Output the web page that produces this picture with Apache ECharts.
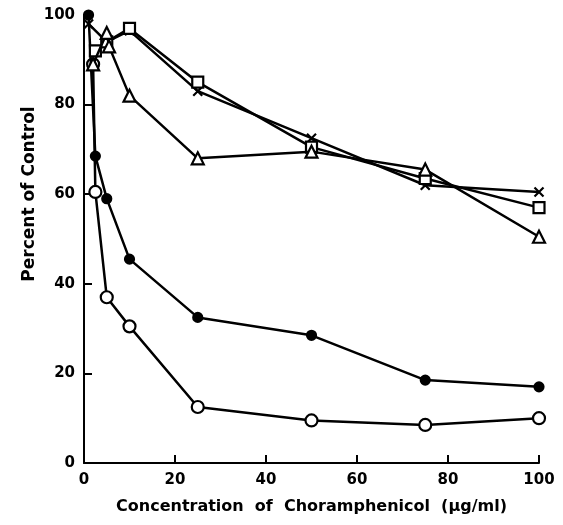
<!DOCTYPE html>
<html>
<head>
<meta charset="utf-8">
<script src="https://cdn.jsdelivr.net/npm/echarts@6/dist/echarts.min.js"></script>
<style>
  html, body { margin: 0; padding: 0; background: #fff; }
  #chart { width: 563px; height: 525px; }
</style>
</head>
<body>
<div id="chart"></div>
<script>
// concentrations (ug/ml) and percent of control
const xFilled = [1, 2.5, 5, 10, 25, 50, 75, 100];
const yFilled = [100, 68.5, 59, 45.5, 32.5, 28.5, 18.5, 17];

const xOpen = [2, 2.5, 5, 10, 25, 50, 75, 100];
const yOpen = [89, 60.5, 37, 30.5, 12.5, 9.5, 8.5, 10];

const xCross = [1, 5, 10, 25, 50, 75, 100];
const yCross = [98, 94, 96.5, 83, 72.5, 62, 60.5];

const xSquare = [2.5, 5, 10, 25, 50, 75, 100];
const ySquare = [92, 94, 97, 85, 70.5, 63.5, 57];

const xTriangle = [2, 5, 5.5, 10, 25, 50, 75, 100];
const yTriangle = [89, 96, 93, 82, 68, 69.5, 65.5, 50.5];

const xTicks = [0, 20, 40, 60, 80, 100];
const yTicks = [0, 20, 40, 60, 80, 100];

const pairs = (xs, ys) => xs.map((x, i) => [x, ys[i]]);

const FONT = '"DejaVu Sans", sans-serif';

const chart = echarts.init(document.getElementById('chart'));

// shared look for the lines
const lineSeries = (data, symbol, size, filled, z) => ({
    type: 'line',
    data: data,
    symbol: symbol,
    symbolSize: size,
    showAllSymbol: true,
    lineStyle: { color: '#000', width: 2.5 },
    itemStyle: {
        color: filled ? '#000' : '#fff',
        borderColor: '#000',
        borderWidth: 2.2
    },
    z: z
});

const option = {
    animation: false,
    backgroundColor: '#fff',
    grid: { left: 84, right: 24, top: 15, bottom: 62 },
    xAxis: {
        type: 'value',
        min: 0, max: 100, interval: 20,
        axisLine: { lineStyle: { color: '#000', width: 2 } },
        axisTick: { inside: true, length: 8, lineStyle: { color: '#000', width: 2 } },
        axisLabel: {
            color: '#000', fontFamily: FONT, fontWeight: 'bold', fontSize: 15, margin: 10,
            formatter: v => xTicks.includes(v) ? String(v) : ''
        },
        splitLine: { show: false },
        name: 'Concentration  of  Choramphenicol  (\u03bcg/ml)',
        nameLocation: 'middle',
        nameGap: 36,
        nameTextStyle: { color: '#000', fontFamily: FONT, fontWeight: 'bold', fontSize: 16 }
    },
    yAxis: {
        type: 'value',
        min: 0, max: 100, interval: 20,
        axisLine: { show: true, lineStyle: { color: '#000', width: 2 } },
        axisTick: { show: true, inside: true, length: 8, lineStyle: { color: '#000', width: 2 } },
        axisLabel: {
            color: '#000', fontFamily: FONT, fontWeight: 'bold', fontSize: 15, margin: 9,
            formatter: v => yTicks.includes(v) ? String(v) : ''
        },
        splitLine: { show: false }
    },
    graphic: [{
        type: 'text',
        x: 30, y: 194,
        rotation: Math.PI / 2,
        style: {
            text: 'Percent of Control',
            font: 'bold 17px ' + FONT,
            fill: '#000',
            align: 'center',
            verticalAlign: 'middle'
        }
    }],
    series: [
        lineSeries(pairs(xOpen, yOpen), 'circle', 12, false, 2),
        lineSeries(pairs(xCross, yCross), 'path://M0,0L10,10M10,0L0,10', 9, true, 3),
        lineSeries(pairs(xSquare, ySquare), 'rect', 11, false, 3),
        lineSeries(pairs(xTriangle, yTriangle), 'triangle', 12, false, 4),
        lineSeries(pairs(xFilled, yFilled), 'circle', 9, true, 3)
    ]
};

chart.setOption(option);
</script>
</body>
</html>
